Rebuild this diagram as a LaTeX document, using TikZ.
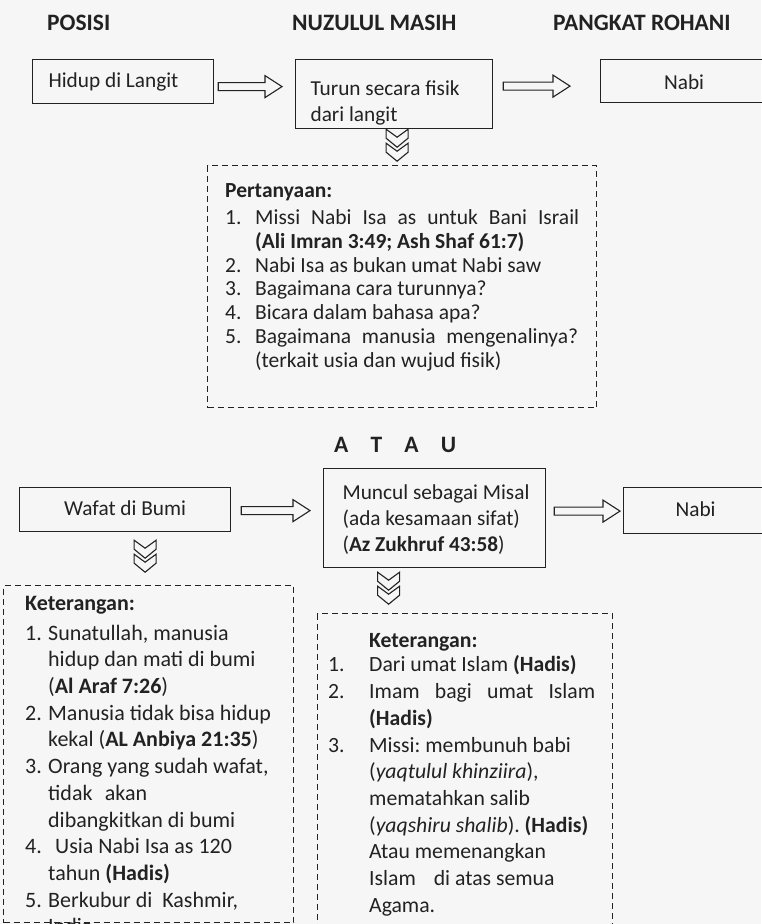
\documentclass[tikz,border=0pt]{standalone}
\usepackage{fontspec}
\setmainfont{Carlito}
\usetikzlibrary{calc}
\definecolor{ink}{HTML}{222222}
\definecolor{bg}{HTML}{F6F6F6}
\newcommand\hollowarrow[2]{%
  \draw[harr] let \p1=(#1), \p2=(#2) in
    (\x1,\y1+4pt) -- (\x2-17pt,\y1+4pt) -- (\x2-17pt,\y1+11pt) -- (\x2,\y1)
    -- (\x2-17pt,\y1-11pt) -- (\x2-17pt,\y1-4pt) -- (\x1,\y1-4pt) -- cycle;}
\begin{document}
\frenchspacing
\begin{tikzpicture}[x=1pt,y=-1pt,
  every node/.style={text=ink},
  box/.style={draw=ink, line width=1.2pt, inner ysep=0pt, anchor=north west,
    font=\fontsize{21.3}{26}\selectfont},
  head/.style={font=\fontsize{23.5}{28}\selectfont\bfseries, anchor=base west, inner sep=0pt},
  dbox/.style={draw=ink, line width=1.2pt, dash pattern=on 6pt off 4pt, inner sep=0pt,
    anchor=north west},
  listtext/.style={anchor=north west, inner sep=0pt, align=left},
  harr/.style={draw=ink, line width=1.1pt, fill=bg},
  chev/.style={draw=ink, line width=1.1pt, fill=bg},
  dchev/.pic={
    \draw[chev] (-11,0) -- (0,8) -- (11,0) -- (11,9) -- (0,18) -- (-11,9) -- cycle;
    \draw[chev] (-11,14) -- (0,22) -- (11,14) -- (11,23) -- (0,32) -- (-11,23) -- cycle;
  }
]
\fill[bg] (0,0) rectangle (761,924);
\useasboundingbox (0,0) rectangle (761,924);

% headers
\node[head] (hPos) at (47,30) {POSISI};
\node[head] (hNuz) at (292,30) {NUZULUL MASIH};
\node[head] (hPang) at (553,30) {PANGKAT ROHANI};

% row 1
\node[box, inner xsep=16pt, text width=149pt, align=flush left] (A) at (32,59)
  {\rule[-16pt]{0pt}{44pt}Hidup di Langit};
\node[box, inner xsep=15pt, text width=167pt, align=flush left] (B) at (295,59)
  {\rule{0pt}{36pt}Turun secara fisik\\dari langit\rule[-7pt]{0pt}{7pt}};
\node[box, inner xsep=0pt, text width=167pt, align=flush center] (C) at (600,59)
  {\rule[-13pt]{0pt}{43pt}Nabi};

\coordinate (a1s) at ($(A.east)+(4,5)$);
\coordinate (a1e) at ($(B.west)+(-13,0)$);
\hollowarrow{a1s}{a1e}
\coordinate (a2s) at ($(B.east)+(10,-8)$);
\coordinate (a2e) at ($(C.west)+(-30,0)$);
\hollowarrow{a2s}{a2e}

\pic at ($(B.south)+(3,0)$) {dchev};

% Pertanyaan box
\node[dbox, minimum width=389pt, minimum height=242pt] (Q) at (207,165) {};
\node[listtext, font=\fontsize{21.5}{23.7}\selectfont] (Qt) at ($(Q.north west)+(18,18)$) {%
\textbf{Pertanyaan:}\\[4pt]
\makebox[30pt][l]{1.}\makebox[324pt][s]{Missi Nabi Isa as untuk Bani Israil}\\
\hspace*{30pt}\textbf{(Ali Imran 3:49; Ash Shaf 61:7)}\\
\makebox[30pt][l]{2.}Nabi Isa as bukan umat Nabi saw\\
\makebox[30pt][l]{3.}Bagaimana cara turunnya?\\
\makebox[30pt][l]{4.}Bicara dalam bahasa apa?\\
\makebox[30pt][l]{5.}\makebox[323pt][s]{Bagaimana manusia mengenalinya?}\\
\hspace*{30pt}(terkait usia dan wujud fisik)};

% ATAU
\node[head] (atau) at (334,452) {\makebox[122pt][s]{A T A U}};

% row 2
\node[box, inner xsep=0pt, text width=211pt, align=flush center] (D) at (19,487)
  {\rule[-16pt]{0pt}{44pt}Wafat di Bumi};
\node[box, inner xsep=10pt, text width=202pt, align=flush left] (E) at (323,468)
  {\rule{0pt}{31pt}\hspace*{9pt}Muncul sebagai Misal\\\hspace*{9pt}(ada kesamaan sifat)\\\hspace*{9pt}(\textbf{Az Zukhruf 43:58})\rule[-16pt]{0pt}{16pt}};
\node[box, inner xsep=0pt, text width=144pt, align=flush center] (F) at (623,487)
  {\rule[-17pt]{0pt}{46pt}Nabi};

\coordinate (a3s) at ($(D.east)+(10,1)$);
\coordinate (a3e) at ($(E.west)+(-13,0)$);
\hollowarrow{a3s}{a3e}
\coordinate (a4s) at ($(E.east)+(8,-7)$);
\coordinate (a4e) at ($(F.west)+(-3,0)$);
\hollowarrow{a4s}{a4e}

\pic at ($(D.south)+(20,8)$) {dchev};
\pic at ($(E.south)+(-46,4)$) {dchev};

% left Keterangan box
\node[dbox, minimum width=290pt, minimum height=337pt] (L) at (3,585) {};
\node[listtext, font=\fontsize{22}{26.7}\selectfont] (Lt) at ($(L.north west)+(22,11)$) {%
\textbf{Keterangan:}\\[3pt]
\makebox[23pt][l]{1.}Sunatullah, manusia\\
\hspace*{23pt}hidup dan mati di bumi\\
\hspace*{23pt}(\textbf{Al Araf 7:26})\\
\makebox[23pt][l]{2.}Manusia tidak bisa hidup\\
\hspace*{23pt}kekal (\textbf{AL Anbiya 21:35})\\
\makebox[23pt][l]{3.}Orang yang sudah wafat,\\
\hspace*{23pt}\makebox[99pt][s]{tidak akan}\\
\hspace*{23pt}dibangkitkan di bumi\\
\makebox[23pt][l]{4.}\hspace*{7pt}Usia Nabi Isa as 120\\
\hspace*{23pt}tahun \textbf{(Hadis)}\\
\makebox[23pt][l]{5.}Berkubur di\ \ Kashmir,\\
\hspace*{23pt}India};

% right Keterangan box
\node[dbox, minimum width=295pt, minimum height=330pt] (R) at (317,613) {};
\node[listtext, font=\fontsize{21.7}{26.7}\selectfont] (Rt) at ($(R.north west)+(11,20)$) {%
\hspace*{41pt}\textbf{Keterangan:}\\[-2pt]
\makebox[41pt][l]{1.}Dari umat Islam \textbf{(Hadis)}\\
\makebox[41pt][l]{2.}\makebox[226pt][s]{Imam bagi umat Islam}\\
\hspace*{41pt}\textbf{(Hadis)}\\
\makebox[41pt][l]{3.}Missi: membunuh babi\\
\hspace*{41pt}(\textit{yaqtulul khinziira}),\\
\hspace*{41pt}mematahkan salib\\
\hspace*{41pt}(\textit{yaqshiru shalib}). \textbf{(Hadis)}\\
\hspace*{41pt}Atau memenangkan\\
\hspace*{41pt}Islam\hspace*{18pt}di atas semua\\
\hspace*{41pt}Agama.};
\end{tikzpicture}
\end{document}
